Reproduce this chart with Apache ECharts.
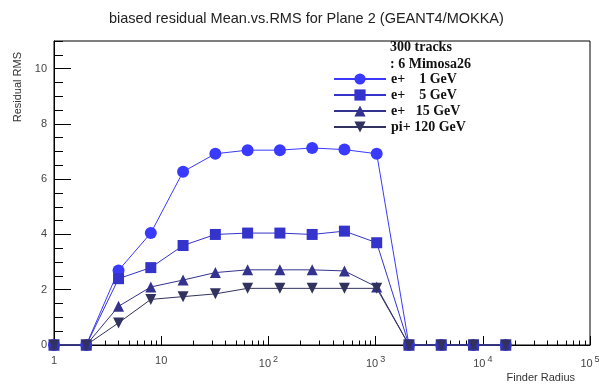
<!DOCTYPE html>
<html>
<head>
<meta charset="utf-8">
<script src="https://cdn.jsdelivr.net/npm/echarts@6/dist/echarts.min.js"></script>
<style>html,body{margin:0;padding:0;background:#fff;}#c{width:599px;height:386px;}</style>
</head>
<body>
<div id="c"></div>
<script>
var radius = [1, 2, 4, 8, 16, 32, 64, 128, 256, 512, 1024, 2048, 4096, 8192, 16384];
var e1GeV   = [0, 0, 2.7, 4.05, 6.27, 6.92, 7.05, 7.05, 7.13, 7.07, 6.92, 0, 0, 0, 0];
var e5GeV   = [0, 0, 2.4, 2.8, 3.6, 4.0, 4.05, 4.05, 4.0, 4.12, 3.7, 0, 0, 0, 0];
var e15GeV  = [0, 0, 1.4, 2.1, 2.35, 2.62, 2.72, 2.72, 2.72, 2.68, 2.1, 0, 0, 0, 0];
var pi120GeV = [0, 0, 0.8, 1.65, 1.75, 1.85, 2.05, 2.05, 2.05, 2.05, 2.05, 0, 0, 0, 0];
var seriesNames = ['e+    1 GeV', 'e+    5 GeV', 'e+   15 GeV', 'pi+ 120 GeV'];
var xMajorTicks = [1, 10, 100, 1000, 10000, 100000];
var yMajorTicks = [0, 2, 4, 6, 8, 10];

var xMinorTicks = [];
for (var d = 1; d < 100000; d *= 10) { for (var m = 2; m <= 9; m++) xMinorTicks.push(d * m); }
var yMinorTicks = [];
for (var v = 0; v <= 11; v += 0.5) yMinorTicks.push(v);

function pairs(ys) { return radius.map(function (r, i) { return [r, ys[i]]; }); }

var chart = echarts.init(document.getElementById('c'), null, {renderer: 'canvas'});
var axisFont = 'Liberation Sans, Arial, sans-serif';
var lblColor = '#444';
var option = {
  animation: false,
  backgroundColor: '#fff',
  title: {
    text: 'biased residual Mean.vs.RMS for Plane 2 (GEANT4/MOKKA)',
    left: 104, top: 6,
    textStyle: {fontFamily: axisFont, fontSize: 14.5, fontWeight: 'normal', color: '#222'}
  },
  grid: {left: 54, right: 9, top: 41, bottom: 41, containLabel: false, outerBoundsMode: 'none',
         show: true, borderColor: '#000', borderWidth: 1, backgroundColor: 'transparent'},
  legend: {
    orient: 'vertical', left: 333, top: 71, padding: 0, itemWidth: 52, itemHeight: 14, itemGap: 0,
    textStyle: {fontFamily: 'Liberation Serif, Times New Roman, serif', fontWeight: 'bold', fontSize: 14, lineHeight: 16, color: '#111'},
    data: seriesNames
  },
  xAxis: [{
    type: 'log', logBase: 10, min: 1, max: 100000, position: 'bottom',
    axisLine: {show: true, onZero: false, lineStyle: {color: '#000', width: 1}},
    axisTick: {show: true, inside: true, length: 9, customValues: xMajorTicks, lineStyle: {color: '#000'}},
    minorTick: {show: false},
    splitLine: {show: false},
    axisLabel: {
      customValues: xMajorTicks, margin: 10, color: lblColor, fontFamily: axisFont, fontSize: 11,
      formatter: function (val) {
        var e = Math.round(Math.log10(val));
        if (e === 0) return '1';
        if (e === 1) return '10';
        return '10{sup|' + e + '}';
      },
      rich: {sup: {fontSize: 9, verticalAlign: 'bottom', padding: [0, 0, 9, 2], color: lblColor, fontFamily: axisFont}}
    }
  }, {
    type: 'log', logBase: 10, min: 1, max: 100000, position: 'bottom', gridIndex: 0,
    axisLine: {show: false},
    axisTick: {show: true, inside: true, length: 4.5, customValues: xMinorTicks, lineStyle: {color: '#000'}},
    axisLabel: {show: false}, splitLine: {show: false}
  }],
  yAxis: [{
    type: 'value', min: 0, max: 11, position: 'left',
    axisLine: {show: true, onZero: false, lineStyle: {color: '#000', width: 1}},
    axisTick: {show: true, inside: true, length: 17, customValues: yMajorTicks, lineStyle: {color: '#000'}},
    splitLine: {show: false},
    axisLabel: {customValues: yMajorTicks, margin: 7, color: lblColor, fontFamily: axisFont, fontSize: 11}
  }, {
    type: 'value', min: 0, max: 11, position: 'left', gridIndex: 0,
    axisLine: {show: false},
    axisTick: {show: true, inside: true, length: 9, customValues: yMinorTicks, lineStyle: {color: '#000'}},
    axisLabel: {show: false}, splitLine: {show: false}
  }],
  graphic: [
    {type: 'text', left: 390, top: 40, style: {text: '300 tracks', font: 'bold 14px "Liberation Serif", serif', fill: '#111'}},
    {type: 'text', left: 390, top: 57, style: {text: ': 6 Mimosa26', font: 'bold 14px "Liberation Serif", serif', fill: '#111'}},
    {type: 'text', x: 18, y: 52, rotation: Math.PI / 2,
     style: {text: 'Residual RMS', font: '11px "Liberation Sans", Arial, sans-serif', fill: '#333', align: 'right', verticalAlign: 'middle'}},
    {type: 'text', x: 575, y: 378,
     style: {text: 'Finder Radius', font: '11px "Liberation Sans", Arial, sans-serif', fill: '#333', align: 'right', verticalAlign: 'middle'}}
  ],
  series: [
    {name: seriesNames[0], type: 'line', data: pairs(e1GeV), symbol: 'circle', symbolSize: 12,
     itemStyle: {color: '#3a3aff'}, lineStyle: {color: '#3a3aff', width: 1}, clip: false},
    {name: seriesNames[1], type: 'line', data: pairs(e5GeV), symbol: 'rect', symbolSize: 11,
     itemStyle: {color: '#3434cc'}, lineStyle: {color: '#3434cc', width: 1}, clip: false},
    {name: seriesNames[2], type: 'line', data: pairs(e15GeV), symbol: 'triangle', symbolSize: 11,
     itemStyle: {color: '#33338f'}, lineStyle: {color: '#33338f', width: 1}, clip: false},
    {name: seriesNames[3], type: 'line', data: pairs(pi120GeV), symbol: 'triangle', symbolRotate: 180, symbolSize: 11,
     itemStyle: {color: '#32325f'}, lineStyle: {color: '#32325f', width: 1}, clip: false}
  ]
};
chart.setOption(option);
</script>
</body>
</html>
